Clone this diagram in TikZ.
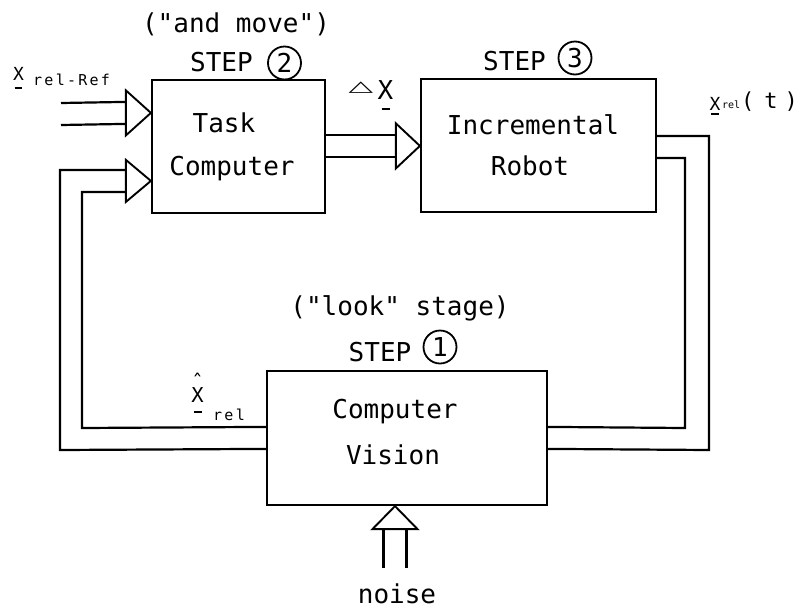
\documentclass[tikz,border=0pt]{standalone}
\usepackage{fontspec}
\setmainfont{DejaVu Sans Mono}
\newfontfamily\symfont{DejaVu Sans}
\usetikzlibrary{calc}
\newcommand\mainsize{\fontsize{26}{43}\selectfont}
\newcommand\subsize{\fontsize{15}{18}\selectfont\addfontfeatures{LetterSpace=15}}
\newcommand\tinysize{\fontsize{10}{12}\selectfont}
\newcommand\qq{\textquotedbl}
% X with a short bar set below it; #1 = depth of the bar below the baseline
\newcommand\barX[1]{\ooalign{X\cr\hfil\raisebox{-#1}{\rule{8pt}{2pt}}\hfil\cr}}
% the same, with a small hat above
\newcommand\hatbarX[1]{\ooalign{X\cr\hfil\raisebox{13pt}{ˆ}\hfil\cr\hfil\raisebox{-#1}{\rule{8pt}{2pt}}\hfil\cr}}
\begin{document}
\begin{tikzpicture}[x=1pt, y=-1pt,
  box/.style={draw, line width=2.2pt, inner sep=0pt, align=center, font=\mainsize},
  wire/.style={line width=2.2pt, line join=miter},
  head/.style={draw, fill=white, line width=1.9pt, line join=miter},
  lbl/.style={inner sep=0pt, font=\mainsize},
  stepno/.style={circle, draw, line width=1.8pt, minimum size=33pt, inner sep=0pt, font=\mainsize}
]
\useasboundingbox (0,0) rectangle (804,611);

% blocks
\node[box, minimum width=173pt, minimum height=133pt] (task) at (238.5,146.5)
  {Task\hspace*{29pt}\null\\Computer\hspace*{13pt}\null};
\node[box, minimum width=235pt, minimum height=133pt] (robot) at (538.5,145.5)
  {Incremental\hspace*{11pt}\null\\[-2pt]Robot\hspace*{17pt}\null};
\node[box, minimum width=280pt, minimum height=134pt] (cv) at (407,438)
  {Computer\hspace*{24pt}\null\\[3pt]Vision\hspace*{28pt}\null\strut};

% reference input into the task computer
\coordinate (tipA) at ($(task.north west)+(0,34)$);
\coordinate (refend) at (61,114);
\draw[wire] ($(refend)+(0,-11)$) -- ($(tipA)+(-25,-11)$);
\draw[wire] ($(refend)+(0,11)$) -- ($(tipA)+(-25,11)$);
\draw[head] ($(tipA)+(-25,-22.5)$) -- (tipA) -- ($(tipA)+(-25,22.5)$) -- cycle;

% feedback from vision into the task computer
\coordinate (tipB) at ($(task.north west)+(0,102)$);
\coordinate (fbo) at (60,450);
\coordinate (fbi) at (82,428);
\draw[wire] ($(cv.north west)+(0,79)$) -- (fbo) |- ($(tipB)+(-25,-11)$);
\draw[wire] ($(cv.north west)+(0,57)$) -- (fbi) |- ($(tipB)+(-25,11)$);
\draw[head] ($(tipB)+(-25,-21)$) -- (tipB) -- ($(tipB)+(-25,21)$) -- cycle;

% increment to the robot
\coordinate (tipC) at ($(robot.north west)+(0,68)$);
\draw[wire] ($(task.north east)+(0,56)$) -- ($(tipC)+(-24,-11)$);
\draw[wire] ($(task.north east)+(0,78)$) -- ($(tipC)+(-24,11)$);
\draw[head] ($(tipC)+(-24,-22.5)$) -- (tipC) -- ($(tipC)+(-24,22.5)$) -- cycle;

% robot state to vision
\coordinate (rbo) at (709,450);
\coordinate (rbi) at (685,428);
\draw[wire] ($(robot.north east)+(0,58)$) -| (rbo) -- ($(cv.north east)+(0,79)$);
\draw[wire] ($(robot.north east)+(0,80)$) -| (rbi) -- ($(cv.north east)+(0,57)$);

% noise into vision
\coordinate (tipN) at ($(cv.south)+(-12,0)$);
\coordinate (noiseend) at (395,568);
\draw[wire] ($(noiseend)+(-11.5,0)$) -- ($(tipN)+(-11.5,23)$);
\draw[wire] ($(noiseend)+(11.5,0)$) -- ($(tipN)+(11.5,23)$);
\draw[head] ($(tipN)+(-22.5,23)$) -- (tipN) -- ($(tipN)+(22.5,23)$) -- cycle;
\node[lbl] (noise) at (397,594) {noise};

% stage captions
\node[lbl] (andmove) at (236,24) {(\qq and move\qq)};
\node[lbl, anchor=base] (step2) at (221.5,71) {STEP};
\node[stepno] (c2) at (284.5,63) {2};
\node[lbl, anchor=base] (step3) at (514.5,70) {STEP};
\node[stepno] (c3) at (575,58) {3};
\node[lbl] (look) at (400,308) {(\qq look\qq{} stage)};
\node[lbl, anchor=base] (step1) at (380,361) {STEP};
\node[stepno] (c1) at (440,347) {1};

% signal labels
\node[lbl, anchor=base, font=\fontsize{18}{20}\selectfont] (xref) at (18.5,80) {\barX{9pt}};
\node[lbl, anchor=base west, font=\subsize] (xrefsub) at (33,85) {rel-Ref};
\node[lbl, font=\symfont\fontsize{22}{24}\selectfont] (dtri) at (361,87.5) {\scalebox{1.45}[0.68]{△}};
\node[lbl, anchor=base] (dx) at (385.5,99) {\barX{11pt}};
\node[lbl, anchor=base, font=\fontsize{20.5}{22}\selectfont] (xhat) at (197.5,402) {\hatbarX{11pt}};
\node[lbl, anchor=base west, font=\subsize] (xhatsub) at (213,420) {rel};
\node[lbl, anchor=base, font=\fontsize{18}{20}\selectfont] (xt) at (715,110) {\barX{5pt}};
\node[lbl, anchor=base west, font=\tinysize] (xtsub) at (722,108) {rel};
\node[lbl, anchor=base west, font=\fontsize{22}{24}\selectfont] (xtarg) at (741,108) {(\kern10pt t\kern7pt)};
\end{tikzpicture}
\end{document}
